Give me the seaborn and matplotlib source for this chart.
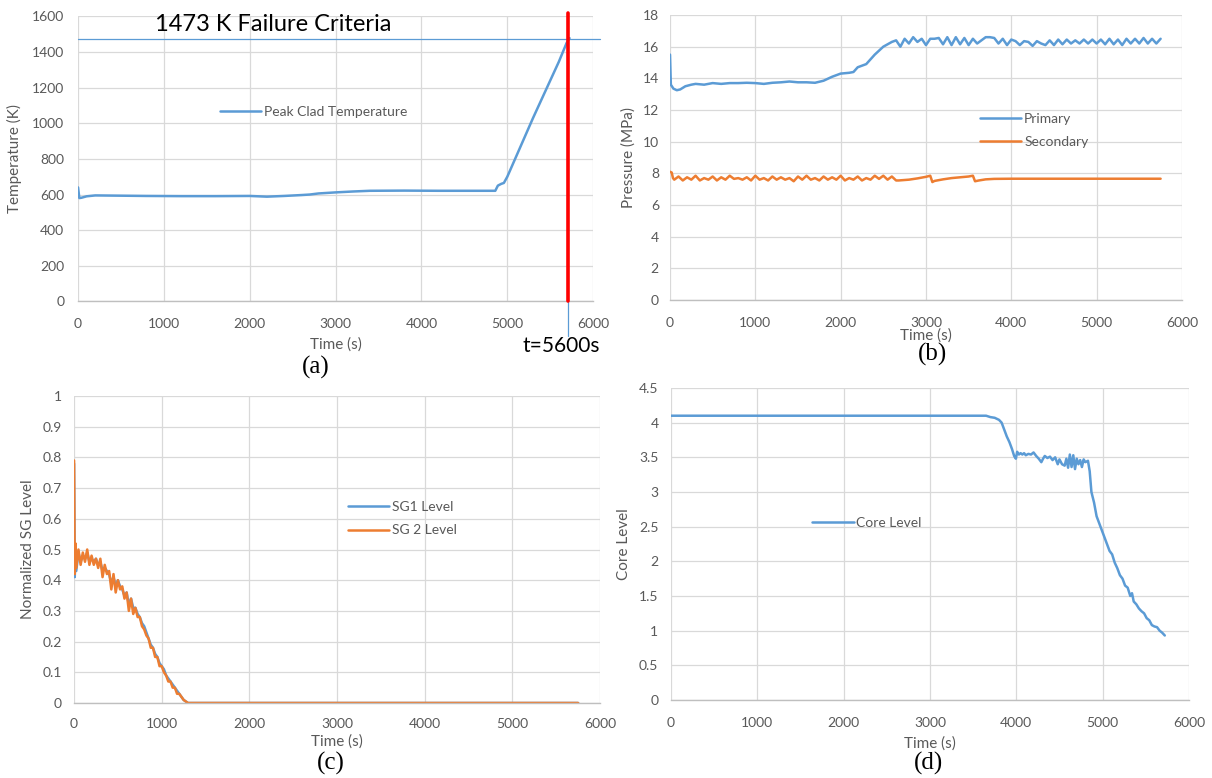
import matplotlib
matplotlib.use('Agg')
import matplotlib.pyplot as plt
import seaborn as sns

# ---------------- (a) peak clad temperature ----------------
tempo_a = [0, 15, 40, 100, 200, 400, 800, 1200, 1600, 2000,
           2200, 2400, 2600, 2700, 2800, 3000, 3200, 3400, 3800, 4200,
           4600, 4860, 4890, 4930, 4960, 5000, 5100, 5200, 5300, 5400,
           5500, 5600, 5690, 5725]
temp_clad = [640, 580, 582, 590, 595, 594, 592, 591, 591, 592,
             588, 592, 597, 600, 606, 612, 617, 621, 622, 621,
             621, 621, 650, 660, 665, 700, 810, 920, 1030, 1135,
             1240, 1345, 1450, 1478]
temp_falha = 1473
tempo_falha = 5710

# ---------------- (b) pressures ----------------
tempo_prim_ini = [0, 10, 40, 80, 120, 180, 250, 300, 400, 500,
                  600, 700, 800, 900, 1000, 1100, 1200, 1300, 1400, 1500,
                  1600, 1700, 1800, 1900, 2000, 2100, 2150, 2200, 2300, 2400,
                  2500, 2600, 2650]
prim_ini = [15.5, 13.6, 13.35, 13.25, 13.3, 13.5, 13.6, 13.65, 13.6, 13.7,
            13.65, 13.7, 13.7, 13.72, 13.7, 13.65, 13.72, 13.75, 13.8, 13.75,
            13.75, 13.72, 13.85, 14.1, 14.3, 14.35, 14.4, 14.7, 14.9, 15.5,
            16.0, 16.3, 16.4]
tempo_prim_osc = [2700, 2750, 2800, 2850, 2900, 2950, 3000, 3050, 3100, 3150,
                  3200, 3250, 3300, 3350, 3400, 3450, 3500, 3550, 3600, 3650,
                  3700, 3750, 3800, 3850, 3900, 3950, 4000, 4050, 4100, 4150,
                  4200, 4250, 4300, 4350, 4400, 4450, 4500, 4550, 4600, 4650,
                  4700, 4750, 4800, 4850, 4900, 4950, 5000, 5050, 5100, 5150,
                  5200, 5250, 5300, 5350, 5400, 5450, 5500, 5550, 5600, 5650,
                  5700, 5750]
prim_osc = [16.0, 16.5, 16.2, 16.6, 16.3, 16.5, 16.1, 16.5, 16.5, 16.55,
            16.15, 16.6, 16.1, 16.6, 16.15, 16.55, 16.1, 16.5, 16.2, 16.4,
            16.6, 16.6, 16.55, 16.2, 16.5, 16.1, 16.45, 16.35, 16.1, 16.35,
            16.3, 16.05, 16.35, 16.2, 16.1, 16.4, 16.1, 16.45, 16.15, 16.45,
            16.2, 16.4, 16.2, 16.45, 16.2, 16.45, 16.2, 16.45, 16.15, 16.5,
            16.15, 16.45, 16.1, 16.5, 16.2, 16.5, 16.2, 16.55, 16.2, 16.5,
            16.2, 16.5]

tempo_sec_ini = [0, 20, 35]
sec_ini = [8.1, 8.05, 7.7]
tempo_sec_osc = [50, 100, 150, 200, 250, 300, 350, 400, 450, 500,
                 550, 600, 650, 700, 750, 800, 850, 900, 950, 1000,
                 1050, 1100, 1150, 1200, 1250, 1300, 1350, 1400, 1450, 1500,
                 1550, 1600, 1650, 1700, 1750, 1800, 1850, 1900, 1950, 2000,
                 2050, 2100, 2150, 2200, 2250, 2300, 2350, 2400, 2450, 2500,
                 2550, 2600, 2650]
sec_osc = [7.6, 7.8, 7.55, 7.75, 7.6, 7.85, 7.55, 7.7, 7.6, 7.8,
           7.55, 7.75, 7.6, 7.85, 7.65, 7.7, 7.6, 7.75, 7.55, 7.85,
           7.6, 7.7, 7.55, 7.8, 7.6, 7.75, 7.6, 7.7, 7.5, 7.8,
           7.6, 7.85, 7.6, 7.7, 7.55, 7.8, 7.6, 7.75, 7.6, 7.85,
           7.55, 7.7, 7.6, 7.8, 7.55, 7.7, 7.6, 7.85, 7.65, 7.85,
           7.6, 7.8, 7.55]
tempo_sec_fim = [2680, 2800, 2900, 3000, 3050, 3075, 3100, 3200, 3300, 3400,
                 3500, 3550, 3575, 3620, 3700, 3800, 4000, 5000, 5750]
sec_fim = [7.55, 7.6, 7.68, 7.78, 7.85, 7.45, 7.52, 7.62, 7.7, 7.75,
           7.8, 7.85, 7.5, 7.55, 7.62, 7.65, 7.66, 7.66, 7.66]

# ---------------- (c) SG levels ----------------
tempo_sg = [0, 8, 16,
            25, 50, 75, 100, 125, 150, 175, 200, 225, 250,
            275, 300, 325, 350, 375, 400, 425, 450, 475, 500,
            525, 550, 575, 600, 625, 650, 675, 700, 725, 750,
            775, 800, 825, 850, 875, 900, 925, 950, 975, 1000,
            1025, 1050, 1075, 1100, 1125, 1150, 1175, 1200, 1225, 1250,
            1275, 1300, 1350, 5750]
sg1 = [0.78, 0.41, 0.5,
       0.43, 0.49, 0.46, 0.48, 0.47, 0.49, 0.46, 0.47, 0.46, 0.47,
       0.45, 0.46, 0.43, 0.44, 0.43, 0.42, 0.39, 0.41, 0.38, 0.4,
       0.38, 0.37, 0.35, 0.36, 0.32, 0.34, 0.31, 0.31, 0.29, 0.28,
       0.26, 0.25, 0.23, 0.21, 0.19, 0.18, 0.16, 0.15, 0.13, 0.12,
       0.11, 0.09, 0.08, 0.07, 0.06, 0.05, 0.04, 0.03, 0.02, 0.01,
       0.005, 0.0, 0.0, 0.0]
sg2 = [0.79, 0.42, 0.52,
       0.44, 0.5, 0.45, 0.49, 0.46, 0.5, 0.45, 0.48, 0.45, 0.47,
       0.44, 0.47, 0.41, 0.45, 0.42, 0.43, 0.37, 0.42, 0.36, 0.4,
       0.37, 0.38, 0.34, 0.36, 0.3, 0.34, 0.29, 0.31, 0.28, 0.28,
       0.25, 0.24, 0.22, 0.21, 0.18, 0.18, 0.15, 0.15, 0.12, 0.12,
       0.1, 0.09, 0.07, 0.07, 0.05, 0.05, 0.03, 0.03, 0.02, 0.01,
       0.005, 0.0, 0.0, 0.0]

# ---------------- (d) core level ----------------
tempo_nucleo = [0, 1000, 2000, 3000, 3650, 3700, 3750, 3800, 3830, 3860,
                3890, 3920, 3950, 3975, 3995, 4010, 4030, 4050, 4070, 4090,
                4110, 4140, 4170, 4200, 4230, 4260, 4290, 4310, 4330, 4360,
                4390, 4420, 4450, 4480, 4500, 4530, 4560, 4580, 4600, 4620,
                4640, 4660, 4680, 4700, 4720, 4740, 4760, 4780, 4800, 4830,
                4850, 4870, 4900, 4930, 4960, 4990, 5020, 5050, 5080, 5110,
                5140, 5170, 5200, 5230, 5260, 5290, 5320, 5340, 5360, 5390,
                5420, 5450, 5480, 5510, 5540, 5570, 5600, 5630, 5660, 5690,
                5720]
nivel_nucleo = [4.1, 4.1, 4.1, 4.1, 4.1, 4.08, 4.07, 4.04, 4.0, 3.9,
                3.8, 3.72, 3.62, 3.52, 3.48, 3.58, 3.54, 3.56, 3.54, 3.56,
                3.53, 3.55, 3.54, 3.57, 3.52, 3.48, 3.43, 3.48, 3.52, 3.49,
                3.51, 3.46, 3.5, 3.4, 3.47, 3.4, 3.38, 3.48, 3.35, 3.54,
                3.36, 3.53, 3.33, 3.48, 3.4, 3.46, 3.36, 3.47, 3.43, 3.45,
                3.3, 3.0, 2.85, 2.65, 2.55, 2.45, 2.35, 2.25, 2.15, 2.1,
                1.98, 1.9, 1.8, 1.75, 1.65, 1.62, 1.5, 1.54, 1.42, 1.38,
                1.32, 1.28, 1.25, 1.18, 1.15, 1.08, 1.06, 1.05, 1.0, 0.97,
                0.93]

# ---------------- ticks ----------------
xticks = [0, 1000, 2000, 3000, 4000, 5000, 6000]
yticks_a = [0, 200, 400, 600, 800, 1000, 1200, 1400, 1600]
yticks_b = [0, 2, 4, 6, 8, 10, 12, 14, 16, 18]
yticks_c = [0, 0.1, 0.2, 0.3, 0.4, 0.5, 0.6, 0.7, 0.8, 0.9, 1.0]
ylabels_c = ['0', '0.1', '0.2', '0.3', '0.4', '0.5', '0.6', '0.7', '0.8', '0.9', '1']
yticks_d = [0, 0.5, 1, 1.5, 2, 2.5, 3, 3.5, 4, 4.5]
ylabels_d = ['0', '0.5', '1', '1.5', '2', '2.5', '3', '3.5', '4', '4.5']

sns.set_theme(style='whitegrid')
plt.rcParams['font.family'] = ['Lato', 'DejaVu Sans']

azul = '#5B9BD5'
laranja = '#ED7D31'
cinza = '#595959'
lw = 1.8

fig = plt.figure(figsize=(12.12, 7.78), dpi=100)
fig.patch.set_facecolor('white')


def estilo_excel(ax, yticks, ylabels, ylim, ylabel, xpad, ypad, xlabpad, ylabpad):
    ax.set_facecolor('white')
    for s in ['top', 'right', 'left']:
        ax.spines[s].set_visible(False)
    ax.spines['bottom'].set_color('#BFBFBF')
    ax.spines['bottom'].set_linewidth(1.0)
    ax.grid(True, color='#D9D9D9', linewidth=0.9)
    ax.set_xlim(0, 6000)
    ax.set_ylim(*ylim)
    ax.set_xticks(xticks)
    ax.set_xticklabels([str(v) for v in xticks])
    ax.set_yticks(yticks)
    ax.set_yticklabels(ylabels)
    ax.tick_params(axis='x', length=0, colors=cinza, labelsize=10, pad=xpad)
    ax.tick_params(axis='y', length=0, colors=cinza, labelsize=10, pad=ypad)
    ax.set_xlabel('Time (s)', color=cinza, fontsize=11, labelpad=xlabpad)
    ax.set_ylabel(ylabel, color=cinza, fontsize=11, labelpad=ylabpad)


def legenda(ax, x, y):
    ax.legend(loc='center left', bbox_to_anchor=(x, y), frameon=False,
              handlelength=3.0, handletextpad=0.2, labelspacing=0.85,
              fontsize=10, labelcolor=cinza, borderpad=0, borderaxespad=0)


# (a)
ax_a = fig.add_axes([0.0644, 0.6126, 0.4250, 0.3663])
sns.lineplot(x=tempo_a, y=temp_clad, ax=ax_a, color=azul, linewidth=lw,
             label='Peak Clad Temperature')
estilo_excel(ax_a, yticks_a, [str(v) for v in yticks_a], (0, 1600),
             'Temperature (K)', 12, 10, 5.5, 7)
legenda(ax_a, 0.275, 0.664)
ax_a.plot([0, 6085], [temp_falha, temp_falha], color=azul, linewidth=0.9,
          clip_on=False, zorder=3)
ax_a.axvline(tempo_falha, ymin=0, ymax=1.013, color='red', linewidth=2.6,
             clip_on=False, zorder=4)
ax_a.axvline(tempo_falha, ymin=-0.12, ymax=0, color=azul, linewidth=0.9,
             clip_on=False)
ax_a.text(0.1495, 0.972, '1473 K Failure Criteria', transform=ax_a.transAxes,
          ha='left', va='center', fontsize=17, color='black')
ax_a.text(0.862, -0.155, 't=5600s', transform=ax_a.transAxes,
          ha='left', va='center', fontsize=15, color='black')

# (b)
ax_b = fig.add_axes([0.5528, 0.6144, 0.4224, 0.3663])
sns.lineplot(x=tempo_prim_ini + tempo_prim_osc, y=prim_ini + prim_osc, ax=ax_b,
             color=azul, linewidth=lw, label='Primary')
sns.lineplot(x=tempo_sec_ini + tempo_sec_osc + tempo_sec_fim,
             y=sec_ini + sec_osc + sec_fim, ax=ax_b,
             color=laranja, linewidth=lw, label='Secondary')
estilo_excel(ax_b, yticks_b, [str(v) for v in yticks_b], (0, 18),
             'Pressure (MPa)', 12, 8, 0, 5)
legenda(ax_b, 0.605, 0.595)

# (c)
ax_c = fig.add_axes([0.0611, 0.0964, 0.4340, 0.3946])
sns.lineplot(x=tempo_sg, y=sg1, ax=ax_c, color=azul, linewidth=lw,
             label='SG1 Level')
sns.lineplot(x=tempo_sg, y=sg2, ax=ax_c, color=laranja, linewidth=lw,
             label='SG 2 Level')
estilo_excel(ax_c, yticks_c, ylabels_c, (0, 1), 'Normalized SG Level',
             11, 9, 3, 5)
legenda(ax_c, 0.52, 0.601)

# (d)
ax_d = fig.add_axes([0.5536, 0.1003, 0.4274, 0.4010])
sns.lineplot(x=tempo_nucleo, y=nivel_nucleo, ax=ax_d, color=azul,
             linewidth=lw, label='Core Level')
estilo_excel(ax_d, yticks_d, ylabels_d, (0, 4.5), 'Core Level', 12, 9, 5.5, 6)
legenda(ax_d, 0.272, 0.567)

# sub-figure labels
for txt, x, y in [('(a)', 0.2607, 0.5283), ('(b)', 0.7698, 0.5450),
                  ('(c)', 0.2731, 0.0193), ('(d)', 0.7665, 0.0193)]:
    fig.text(x, y, txt, ha='center', va='center', fontsize=18,
             family=['Liberation Serif', 'DejaVu Serif'], color='black')

fig.savefig('out.png', dpi=100, facecolor='white')
